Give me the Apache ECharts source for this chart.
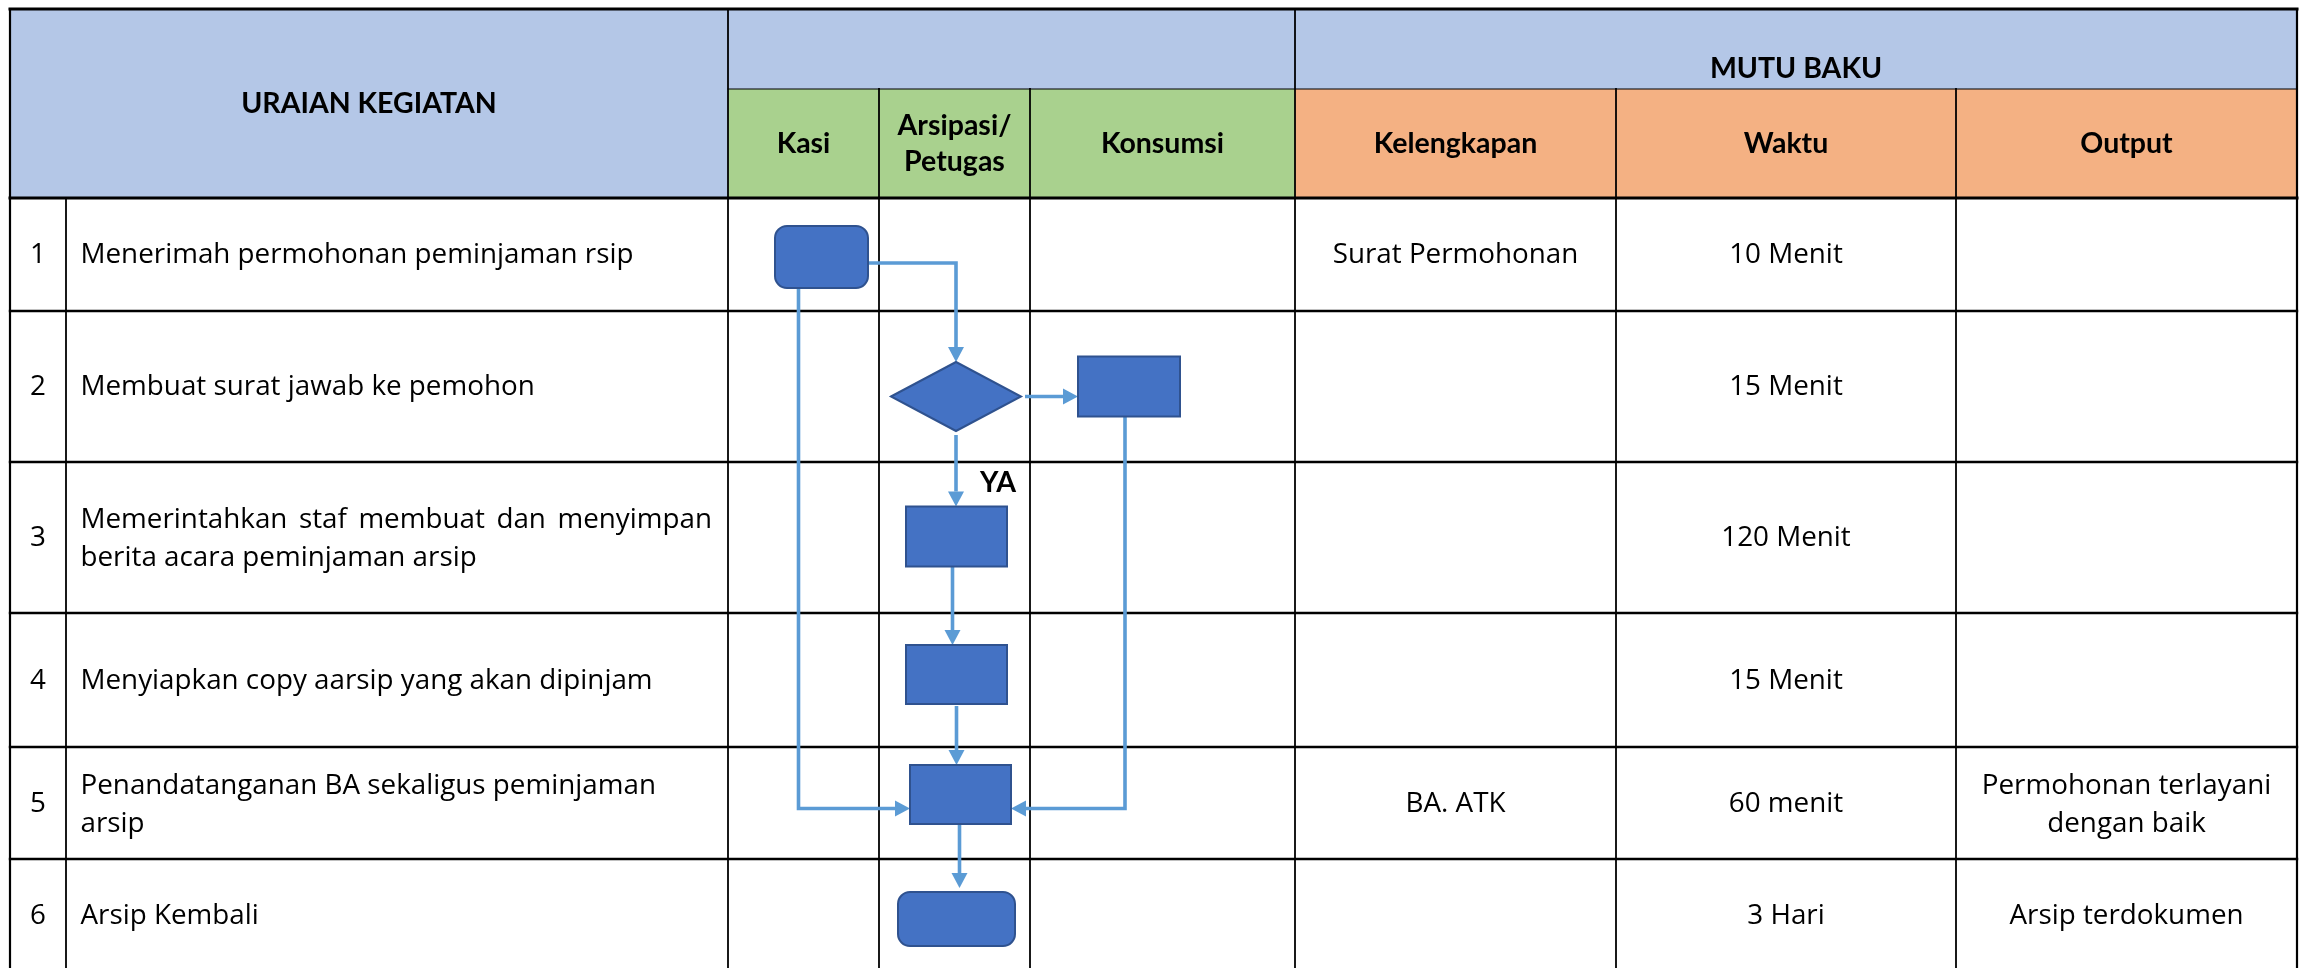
<!DOCTYPE html>
<html><head><meta charset="utf-8">
<script src="https://cdn.jsdelivr.net/npm/echarts@6/dist/echarts.min.js"></script>
<style>html,body{margin:0;padding:0;background:#fff}#c{width:2313px;height:968px}</style>
</head><body><div id="c"></div>
<script>
// ---------------- DATA ----------------
const headerMain = 'URAIAN KEGIATAN';
const headerMutu = 'MUTU BAKU';
const laneNames = ['Kasi', 'Arsipasi/\nPetugas', 'Konsumsi'];
const mutuBakuNames = ['Kelengkapan', 'Waktu', 'Output'];
const stepNumbers = ['1', '2', '3', '4', '5', '6'];
const stepDescriptions = [
  'Menerimah permohonan peminjaman rsip',
  'Membuat surat jawab ke pemohon',
  'Memerintahkan staf membuat dan menyimpan\nberita acara peminjaman arsip',
  'Menyiapkan copy aarsip yang akan dipinjam',
  'Penandatanganan BA sekaligus peminjaman\narsip',
  'Arsip Kembali'
];
const kelengkapan = ['Surat Permohonan', '', '', '', 'BA. ATK', ''];
const waktu = ['10 Menit', '15 Menit', '120 Menit', '15 Menit', '60 menit', '3 Hari'];
const outputs = ['', '', '', '', 'Permohonan terlayani\ndengan baik', 'Arsip terdokumen'];
// flow nodes: [step (row) index, lane index, shape]
const flowNodes = [
  [0, 0, 'terminator'],
  [1, 1, 'decision'],
  [1, 2, 'process'],
  [2, 1, 'process'],
  [3, 1, 'process'],
  [4, 1, 'process'],
  [5, 1, 'terminator']
];
// flow edges: [from node, to node, label]
const flowEdges = [
  [0, 1, ''], [1, 2, ''], [1, 3, 'YA'], [3, 4, ''], [4, 5, ''],
  [0, 5, ''], [2, 5, ''], [5, 6, '']
];

// ---------------- LAYOUT / STYLE ----------------
const BODY_FONT = '"Open Sans", Lato, sans-serif';
const BODY_FS = 27.8;
const HEAD_FONT = 'Lato, "Open Sans", sans-serif';
const HEAD_FS = 28.5;
const LH = 38;
const COL = { blue: '#B4C7E7', green: '#A9D18E', orange: '#F4B183', node: '#4472C4',
  nodeBorder: '#2F528F', edge: '#5B9BD5', line: '#000000', text: '#000000' };
const X = [10, 66, 728, 879, 1030, 1295, 1616, 1956, 2297];
const Y_TOP = 9, Y_SPLIT = 89, Y_HEAD = 198, Y_END = 968;
const ROWS = [198, 311, 462, 613, 747, 859, 972];
const justifyRows = [2];
// node geometry relative to its cell centre: [dx, dy, w, h, radius]
const nodeGeom = [
  [18, 2.5, 93, 62, 12],
  [1.5, 10, 130, 69, 0],
  [-33.5, 0, 102, 60, 0],
  [2, -1, 101, 60, 0],
  [2, -5.5, 101, 59, 0],
  [6, -8.5, 101, 59, 0],
  [2, 3.5, 117, 54, 12]
];
// routing for each edge
const edgeRoute = [
  { type: 'rightDown', sx: 22, sy: 6 },
  { type: 'right', startGap: 4 },
  { type: 'down', startGap: 4 },
  { type: 'down', dx: -4 },
  { type: 'down', startGap: 2 },
  { type: 'downRight', sx: -23, ey: 14 },
  { type: 'downLeft', sx: -4, sy: -3, ey: 14 },
  { type: 'down', dx: -1, startGap: -4, endGap: 4 }
];

const laneCx = i => (X[2 + i] + X[3 + i]) / 2;
const rowCy = r => (ROWS[r] + ROWS[r + 1]) / 2;

function nodeBox(i) {
  const [r, lane] = flowNodes[i];
  const g = nodeGeom[i];
  const cx = laneCx(lane) + g[0], cy = rowCy(r) + g[1];
  return { cx, cy, w: g[2], h: g[3], r: g[4], left: cx - g[2] / 2, right: cx + g[2] / 2,
    top: cy - g[3] / 2, bottom: cy + g[3] / 2, shape: flowNodes[i][2] };
}

// cells
const cells = [
  [X[0], Y_TOP, X[2], Y_HEAD, COL.blue],
  [X[2], Y_TOP, X[5], Y_SPLIT, COL.blue],
  [X[5], Y_TOP, X[8], Y_SPLIT, COL.blue],
  [X[2], Y_SPLIT, X[5], Y_HEAD, COL.green],
  [X[5], Y_SPLIT, X[8], Y_HEAD, COL.orange]
];
// grid lines [x0,y0,x1,y1,width]
const gridLines = [
  [X[2], Y_SPLIT, X[8], Y_SPLIT, 1.2],
  [X[0], Y_TOP, X[8], Y_TOP, 3],
  [X[0], Y_HEAD, X[8], Y_HEAD, 3],
  [X[0], Y_TOP, X[0], Y_END, 2.2],
  [X[8], Y_TOP, X[8], Y_END, 2.2],
  [X[2], Y_TOP, X[2], Y_END, 1.8],
  [X[5], Y_TOP, X[5], Y_END, 1.8],
  [X[3], Y_SPLIT, X[3], Y_END, 1.8],
  [X[4], Y_SPLIT, X[4], Y_END, 1.8],
  [X[6], Y_SPLIT, X[6], Y_END, 1.8],
  [X[7], Y_SPLIT, X[7], Y_END, 1.8],
  [X[1], Y_HEAD, X[1], Y_END, 1.8]
];
for (let r = 1; r < ROWS.length - 1; r++) gridLines.push([X[0], ROWS[r], X[8], ROWS[r], 2.4]);

// texts: {text, x, y, align, bold, justify:[left,right]}
const texts = [];
function addText(str, x, y, align, bold, lh, justifyFirst) {
  const lines = str.split('\n');
  lines.forEach((ln, i) => {
    const yy = y + (i - (lines.length - 1) / 2) * lh;
    texts.push({ text: ln, x, y: yy, align, bold,
      justify: (justifyFirst && i < lines.length - 1) ? [x, X[2] - 16] : null });
  });
}
addText(headerMain, (X[0] + X[2]) / 2, 104, 'center', true, LH);
addText(headerMutu, (X[5] + X[8]) / 2, 69, 'center', true, LH);
laneNames.forEach((t, i) => addText(t, laneCx(i), 143.5, 'center', true, 36));
mutuBakuNames.forEach((t, i) => addText(t, (X[5 + i] + X[6 + i]) / 2, 143.5, 'center', true, LH));
stepNumbers.forEach((t, r) => addText(t, (X[0] + X[1]) / 2, rowCy(r) + 1, 'center', false, LH));
stepDescriptions.forEach((t, r) => addText(t, 80.5, rowCy(r) + (t.includes('\n') ? 2 : 1), 'left', false, LH, justifyRows.includes(r)));
[kelengkapan, waktu, outputs].forEach((arr, c) => arr.forEach((t, r) => {
  if (t) addText(t, (X[5 + c] + X[6 + c]) / 2, rowCy(r) + (t.includes('\n') ? 2 : 1), 'center', false, LH);
}));

const measureCtx = document.createElement('canvas').getContext('2d');
const fontOf = bold => bold
  ? { fontSize: HEAD_FS, fontFamily: HEAD_FONT, fontWeight: 'bold' }
  : { fontSize: BODY_FS, fontFamily: BODY_FONT, fontWeight: 'normal' };
const fontStr = bold => { const f = fontOf(bold); return f.fontWeight + ' ' + f.fontSize + 'px ' + f.fontFamily; };

function edgePoints(i) {
  const [f, t] = flowEdges[i];
  const a = nodeBox(f), b = nodeBox(t), R = edgeRoute[i];
  const sg = R.startGap || 0, eg = R.endGap || 0;
  if (R.type === 'rightDown') {
    const sx = a.cx + R.sx, sy = a.cy + R.sy;
    return [[sx, sy], [b.cx, sy], [b.cx, b.top - eg]];
  }
  if (R.type === 'right') return [[a.right + sg, a.cy], [b.left - eg, a.cy]];
  if (R.type === 'down') {
    const x = a.cx + (R.dx || 0);
    return [[x, a.bottom + sg], [x, b.top - eg]];
  }
  if (R.type === 'downRight') {
    const x = a.cx + R.sx, y = b.cy + R.ey;
    return [[x, a.bottom + (R.sy || 0)], [x, y], [b.left, y]];
  }
  if (R.type === 'downLeft') {
    const x = a.cx + R.sx, y = b.cy + R.ey;
    return [[x, a.bottom + (R.sy || 0)], [x, y], [b.right, y]];
  }
}

const chart = echarts.init(document.getElementById('c'), null, { renderer: 'canvas' });
const idx = n => Array.from({ length: n }, (_, i) => [i, 0]);

chart.setOption({
  animation: false,
  backgroundColor: '#ffffff',
  grid: { left: 0, right: 0, top: 0, bottom: 0 },
  xAxis: { type: 'value', min: 0, max: 2313, show: false },
  yAxis: { type: 'value', min: 0, max: 968, inverse: true, show: false },
  series: [
    { // header cells
      type: 'custom', silent: true, clip: false, z: 1, data: idx(cells.length),
      renderItem: (p, api) => {
        const c = cells[p.dataIndex];
        const p0 = api.coord([c[0], c[1]]), p1 = api.coord([c[2], c[3]]);
        return { type: 'rect', shape: { x: p0[0], y: p0[1], width: p1[0] - p0[0], height: p1[1] - p0[1] },
          style: { fill: c[4] } };
      }
    },
    { // grid lines
      type: 'custom', silent: true, clip: false, z: 2, data: idx(gridLines.length),
      renderItem: (p, api) => {
        const l = gridLines[p.dataIndex];
        const p0 = api.coord([l[0], l[1]]), p1 = api.coord([l[2], l[3]]);
        return { type: 'line', shape: { x1: p0[0], y1: p0[1], x2: p1[0], y2: p1[1] },
          style: { stroke: COL.line, lineWidth: l[4], lineCap: 'square' } };
      }
    },
    { // texts
      type: 'custom', silent: true, clip: false, z: 5, data: idx(texts.length),
      renderItem: (p, api) => {
        const t = texts[p.dataIndex];
        const base = Object.assign({ fill: COL.text, verticalAlign: 'middle' }, fontOf(t.bold));
        if (t.justify) {
          measureCtx.font = fontStr(t.bold);
          const words = t.text.split(' ');
          const ws = words.map(w => measureCtx.measureText(w).width);
          const total = ws.reduce((s, v) => s + v, 0);
          const gap = (t.justify[1] - t.justify[0] - total) / (words.length - 1);
          let x = t.justify[0];
          const children = words.map((w, k) => {
            const pt = api.coord([x, t.y]);
            x += ws[k] + gap;
            return { type: 'text', style: Object.assign({ text: w, x: pt[0], y: pt[1], align: 'left' }, base) };
          });
          return { type: 'group', children };
        }
        const pt = api.coord([t.x, t.y]);
        return { type: 'text', style: Object.assign({ text: t.text, x: pt[0], y: pt[1], align: t.align }, base) };
      }
    },
    { // flow edges
      type: 'custom', silent: true, clip: false, z: 3, data: idx(flowEdges.length),
      renderItem: (p, api) => {
        const raw = edgePoints(p.dataIndex);
        const pts = raw.map(q => api.coord(q));
        const n = pts.length, tip = pts[n - 1], prev = pts[n - 2];
        const dx = tip[0] - prev[0], dy = tip[1] - prev[1];
        const len = Math.hypot(dx, dy), ux = dx / len, uy = dy / len;
        const AL = 15, AW = 8;
        const base = [tip[0] - ux * AL, tip[1] - uy * AL];
        const linePts = pts.slice(0, n - 1).concat([base]);
        const children = [
          { type: 'polyline', shape: { points: linePts },
            style: { stroke: COL.edge, lineWidth: 3.6, fill: null, lineJoin: 'miter' } },
          { type: 'polygon', shape: { points: [tip, [base[0] - uy * AW, base[1] + ux * AW], [base[0] + uy * AW, base[1] - ux * AW]] },
            style: { fill: COL.edge } }
        ];
        const label = flowEdges[p.dataIndex][2];
        if (label) {
          const b = nodeBox(flowEdges[p.dataIndex][1]);
          const lp = api.coord([raw[0][0] + 42, b.top - 24]);
          children.push({ type: 'text', style: Object.assign({ text: label, x: lp[0], y: lp[1], align: 'center',
            verticalAlign: 'middle', fill: COL.text }, fontOf(true)) });
        }
        return { type: 'group', children };
      }
    },
    { // flow nodes
      type: 'custom', silent: true, clip: false, z: 4, data: idx(flowNodes.length),
      renderItem: (p, api) => {
        const b = nodeBox(p.dataIndex);
        const tl = api.coord([b.left, b.top]), br = api.coord([b.right, b.bottom]);
        const style = { fill: COL.node, stroke: COL.nodeBorder, lineWidth: 2 };
        if (b.shape === 'decision') {
          const c = api.coord([b.cx, b.cy]);
          return { type: 'polygon', shape: { points: [[tl[0], c[1]], [c[0], tl[1]], [br[0], c[1]], [c[0], br[1]]] }, style };
        }
        return { type: 'rect', shape: { x: tl[0], y: tl[1], width: br[0] - tl[0], height: br[1] - tl[1], r: b.r }, style };
      }
    }
  ]
});
</script>
</body></html>
